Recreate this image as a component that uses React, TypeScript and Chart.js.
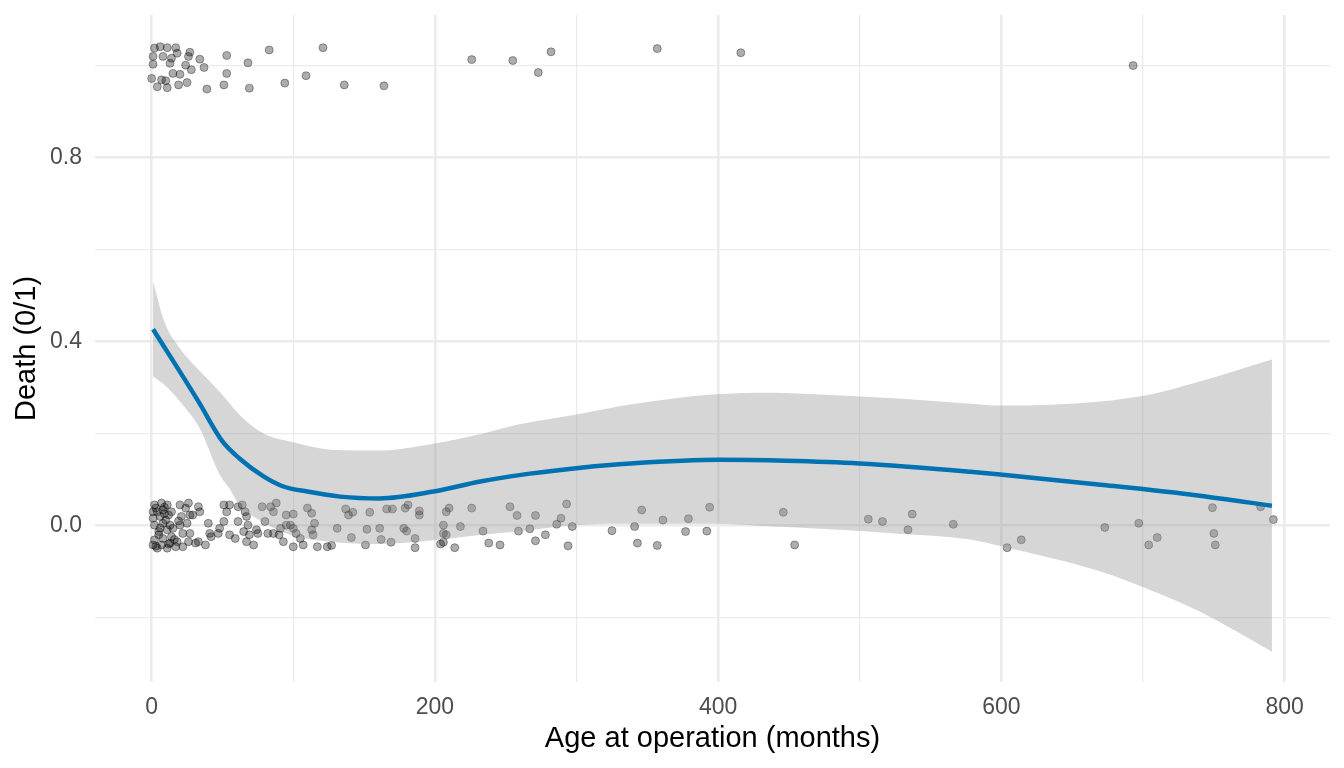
import React, { useEffect, useRef } from 'react';
import { Chart, registerables } from 'chart.js';

Chart.register(...registerables);

// Fitted smooth curve (loess-like) and its confidence band
const fitAge = [1, 33, 50, 62, 79, 93, 110, 133, 161, 199, 232, 267, 303, 338, 401, 448, 500, 578, 599, 670, 740, 791];
const fitDeath = [0.427, 0.27, 0.183, 0.146, 0.107, 0.085, 0.074, 0.063, 0.059, 0.074, 0.096, 0.113, 0.126, 0.135, 0.143, 0.141, 0.135, 0.117, 0.111, 0.089, 0.065, 0.043];

const bandAge = [1, 9, 20, 34, 48, 55, 62, 79, 100, 126, 160, 199, 234, 258, 303, 338, 396, 439, 472, 530, 578, 600, 670, 705, 740, 791];
const bandUpper = [0.53, 0.443, 0.385, 0.336, 0.291, 0.266, 0.241, 0.2, 0.181, 0.165, 0.163, 0.178, 0.2, 0.219, 0.243, 0.263, 0.285, 0.289, 0.285, 0.276, 0.265, 0.261, 0.27, 0.285, 0.313, 0.361];
const bandLower = [0.324, 0.306, 0.27, 0.211, 0.111, 0.08, 0.045, 0.007, -0.022, -0.035, -0.04, -0.032, -0.02, -0.013, 0.002, 0.004, 0.004, -0.002, -0.007, -0.018, -0.03, -0.045, -0.1, -0.14, -0.187, -0.274];

// Jittered observations: survivors (near 0)
const aliveAge = [
  2, 7, 11, 4, 8, 1, 6, 12, 2, 8, 13, 5, 11, 15, 2, 8, 14, 1, 7, 13, 18, 4, 11, 17, 22,
  20, 24, 26, 29, 21, 20, 25, 22, 27, 26, 27, 33, 34, 31, 33, 38, 40, 41, 42, 48, 47, 51, 51, 53, 55,
  55, 59, 61, 64, 66, 67, 68, 65, 61, 69, 67, 72, 74, 75, 78, 80, 84, 88, 86, 82, 86, 90, 91, 95, 98,
  100, 102, 93, 100, 105, 110, 113, 115, 113, 114, 117, 107, 124, 95, 100,
  127, 131, 137, 139, 142, 141, 151, 152, 154, 161, 162, 166, 170, 169, 178, 180, 179, 181, 189, 189,
  186, 186, 206, 208, 210, 206, 208, 204, 206, 214, 218, 226, 234, 238, 246, 253, 258, 259, 267, 271,
  271, 278, 293, 289, 286, 297, 294, 325, 346, 341, 343, 357, 361, 379, 377, 392, 394, 446, 454, 506,
  516, 537, 534, 566, 604, 614, 673, 697, 710, 704, 749, 750, 751, 783, 792,
  3, 9, 5, 10, 14, 16, 6, 3, 12, 9, 19, 1
];
const aliveJitter = [
  0.045, 0.049, 0.045, 0.03, 0.034, 0.016, 0.02, 0.023, 0.001, 0.005, 0.001, -0.013, -0.009, -0.006, -0.031, -0.028, -0.024, -0.042, -0.042, -0.038, -0.035, -0.049, -0.049, -0.046, -0.046,
  0.045, 0.038, 0.049, 0.023, 0.02, 0.001, 0.005, -0.017, -0.017, -0.035, 0.023, 0.041, 0.03, -0.038, -0.035, -0.042, 0.005, -0.017, -0.024, -0.006, -0.017, 0.009, 0.045, 0.03, 0.045,
  -0.02, -0.028, 0.041, 0.045, 0.03, 0.02, 0.001, -0.013, 0.009, -0.02, -0.035, -0.042, -0.009, -0.017, 0.041, 0.009, 0.041, 0.049, 0.03, -0.017, -0.017, -0.02, -0.006, 0.001, 0.001,
  -0.006, -0.017, -0.035, -0.046, -0.028, 0.038, 0.027, 0.005, -0.009, -0.02, -0.046, -0.042, -0.046, 0.023, 0.025,
  -0.043, -0.006, 0.036, 0.023, 0.029, -0.026, -0.042, -0.008, 0.029, -0.006, -0.03, 0.036, 0.036, -0.036, -0.006, -0.012, 0.038, 0.045, 0.032, 0.023,
  -0.028, -0.048, 0.001, 0.03, 0.038, -0.017, -0.02, -0.04, -0.036, -0.048, -0.002, 0.038, -0.012, -0.038, -0.042, 0.041, 0.022, -0.012, -0.007, 0.022,
  -0.033, -0.02, 0.047, 0.016, 0.003, -0.002, -0.044, -0.011, 0.034, -0.002, -0.038, -0.043, 0.012, 0.015, -0.013, -0.012, 0.04, 0.029, -0.042, 0.014,
  0.009, 0.025, -0.009, 0.003, -0.048, -0.031, -0.004, 0.005, -0.026, -0.042, 0.039, -0.017, -0.042, 0.041, 0.013,
  0.038, 0.04, -0.02, 0.012, 0.03, -0.03, -0.005, -0.045, -0.04, 0.026, 0.01, 0.03
];

// Jittered observations: deaths (near 1)
const deadAge = [
  6, 2, 11, 17, 1, 8, 14, 18, 27, 26, 34, 37, 28, 24, 13, 1, 15, 20, 0, 7, 10, 19, 4, 11, 25,
  39, 51, 53, 53, 68, 69, 83, 94, 109, 121, 136, 164, 226, 255, 273, 282, 357, 416, 693
];
const deadJitter = [
  1.041, 1.038, 1.039, 1.039, 1.02, 1.02, 1.016, 1.027, 1.029, 1.02, 1.014, 0.996, 0.991, 1.001, 1.005, 1.003, 0.983, 0.981, 0.972, 0.969, 0.967, 0.958, 0.954, 0.952, 0.963,
  0.949, 0.958, 0.983, 1.022, 1.006, 0.951, 1.034, 0.962, 0.978, 1.039, 0.958, 0.956, 1.013, 1.011, 0.985, 1.03, 1.037, 1.028, 1.0
];

const xTicks = [0, 100, 200, 300, 400, 500, 600, 700, 800];
const xLabelled = [0, 200, 400, 600, 800];
const yTicks = [-0.2, 0, 0.2, 0.4, 0.6, 0.8, 1.0];
const yLabelled = [0, 0.4, 0.8];

const FONT = "'Liberation Sans', Arial, sans-serif";
const near = (list: number[], v: number) => list.some((t) => Math.abs(t - v) < 1e-9);

export default function App() {
  const canvasRef = useRef<HTMLCanvasElement | null>(null);

  useEffect(() => {
    if (!canvasRef.current) return;
    const points = [
      ...aliveAge.map((x, i) => ({ x, y: aliveJitter[i] })),
      ...deadAge.map((x, i) => ({ x, y: deadJitter[i] })),
    ];
    const chart = new Chart(canvasRef.current, {
      type: 'scatter',
      data: {
        datasets: [
          {
            type: 'line',
            label: 'fit',
            data: fitAge.map((x, i) => ({ x, y: fitDeath[i] })),
            borderColor: '#0072B2',
            borderWidth: 4.5,
            pointRadius: 0,
            cubicInterpolationMode: 'monotone',
            fill: false,
            order: 0,
          },
          {
            type: 'line',
            label: 'upper',
            data: bandAge.map((x, i) => ({ x, y: bandUpper[i] })),
            borderWidth: 0,
            borderColor: 'rgba(0,0,0,0)',
            backgroundColor: 'rgba(153,153,153,0.4)',
            pointRadius: 0,
            cubicInterpolationMode: 'monotone',
            fill: '+1',
            order: 1,
          },
          {
            type: 'line',
            label: 'lower',
            data: bandAge.map((x, i) => ({ x, y: bandLower[i] })),
            borderWidth: 0,
            borderColor: 'rgba(0,0,0,0)',
            pointRadius: 0,
            cubicInterpolationMode: 'monotone',
            fill: false,
            order: 2,
          },
          {
            type: 'scatter',
            label: 'obs',
            data: points,
            pointRadius: 4,
            backgroundColor: 'rgba(0,0,0,0.32)',
            borderColor: 'rgba(0,0,0,0.35)',
            borderWidth: 1,
            order: 3,
          },
        ],
      } as any,
      options: {
        animation: false,
        responsive: true,
        maintainAspectRatio: false,
        layout: { padding: { left: 0, right: 14, top: 15, bottom: 0 } },
        plugins: { legend: { display: false }, tooltip: { enabled: false } },
        scales: {
          x: {
            type: 'linear',
            min: -40,
            max: 832,
            afterBuildTicks: (s: any) => {
              s.ticks = xTicks.map((v) => ({ value: v }));
            },
            afterFit: (s: any) => {
              s.height = 86;
              s.paddingLeft = 0;
              s.paddingRight = 0;
            },
            border: { display: false },
            grid: {
              color: '#EBEBEB',
              drawTicks: false,
              lineWidth: (ctx: any) => (ctx.tick && near(xLabelled, ctx.tick.value) ? 2.6 : 1.3),
            },
            ticks: {
              autoSkip: false,
              maxRotation: 0,
              padding: 12,
              color: '#4D4D4D',
              font: { family: FONT, size: 23 },
              callback: (v: any) => (near(xLabelled, Number(v)) ? String(v) : ''),
            },
            title: {
              display: true,
              text: 'Age at operation (months)',
              color: '#000000',
              font: { family: FONT, size: 29 },
              padding: { top: 0, bottom: 12 },
            },
          },
          y: {
            type: 'linear',
            min: -0.34,
            max: 1.11,
            afterBuildTicks: (s: any) => {
              s.ticks = yTicks.map((v) => ({ value: v }));
            },
            afterFit: (s: any) => {
              s.width = 95;
              s.paddingTop = 0;
              s.paddingBottom = 0;
            },
            border: { display: false },
            grid: {
              color: '#EBEBEB',
              drawTicks: false,
              lineWidth: (ctx: any) => (ctx.tick && near(yLabelled, ctx.tick.value) ? 2.6 : 1.3),
            },
            ticks: {
              autoSkip: false,
              padding: 13,
              color: '#4D4D4D',
              font: { family: FONT, size: 23 },
              callback: (v: any) => (near(yLabelled, Number(v)) ? Number(v).toFixed(1) : ''),
            },
            title: {
              display: true,
              text: 'Death (0/1)',
              color: '#000000',
              font: { family: FONT, size: 29 },
              padding: { top: 10, bottom: 0 },
            },
          },
        },
      } as any,
    });
    return () => chart.destroy();
  }, []);

  return (
    <div style={{ position: 'absolute', left: 0, top: 0, width: 1344, height: 768, background: '#ffffff' }}>
      <canvas ref={canvasRef} />
    </div>
  );
}
